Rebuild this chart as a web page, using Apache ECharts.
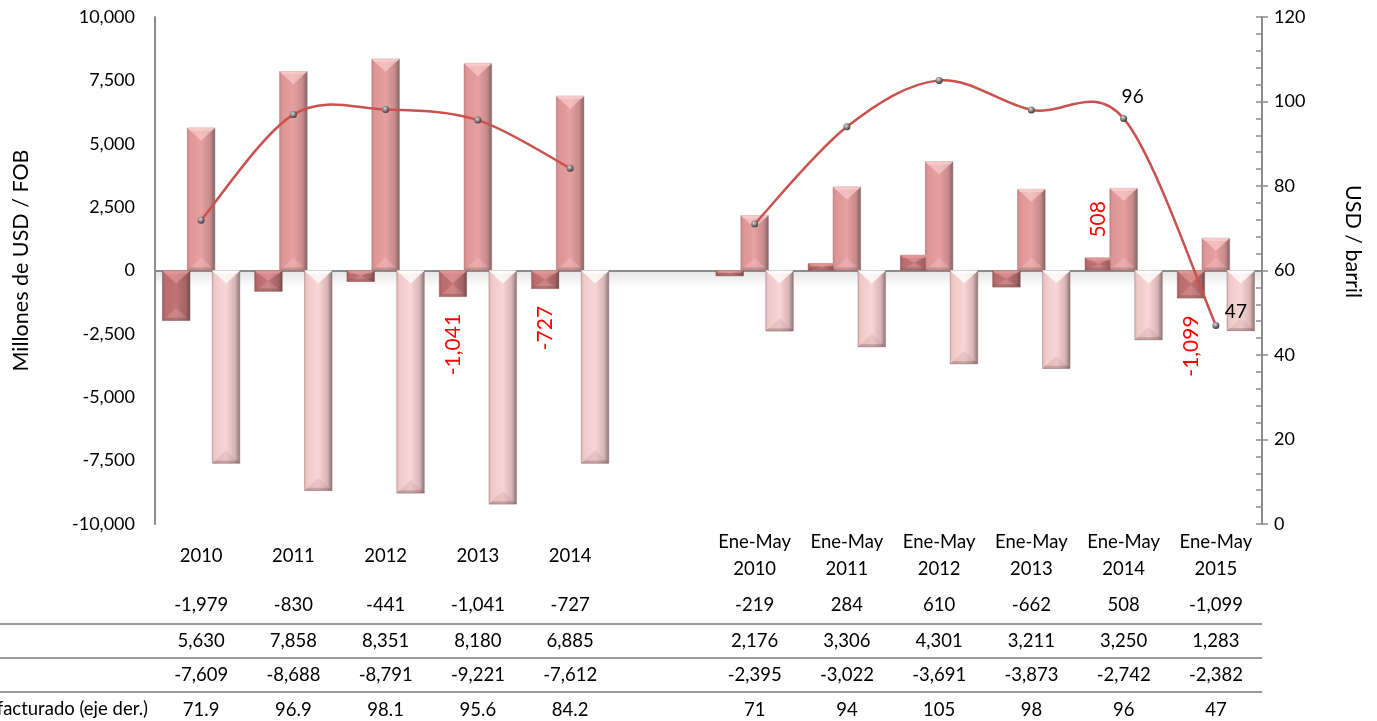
<!DOCTYPE html>
<html>
<head>
<meta charset="utf-8">
<script src="https://cdn.jsdelivr.net/npm/echarts@6/dist/echarts.min.js"></script>
<style>
  html, body { margin: 0; padding: 0; background: #fff; }
  #chart { width: 1377px; height: 721px; }
</style>
</head>
<body>
<div id="chart"></div>
<script>
// Periods: annual totals, a spacer column, then January-May partials
const categories = ['2010', '2011', '2012', '2013', '2014', '',
  'Ene-May\n2010', 'Ene-May\n2011', 'Ene-May\n2012', 'Ene-May\n2013', 'Ene-May\n2014', 'Ene-May\n2015'];

// Millones de USD FOB
const balance = [-1979, -830, -441, -1041, -727, null, -219, 284, 610, -662, 508, -1099];
const exportsFob = [5630, 7858, 8351, 8180, 6885, null, 2176, 3306, 4301, 3211, 3250, 1283];
const importsFob = [-7609, -8688, -8791, -9221, -7612, null, -2395, -3022, -3691, -3873, -2742, -2382];

// USD / barril (right axis)
const price = [71.9, 96.9, 98.1, 95.6, 84.2, null, 71, 94, 105, 98, 96, 47];

// Which points carry a value label on the chart
const balanceLabelIdx = [3, 4, 10, 11];
const priceLabelIdx = [10, 11];

const priceRowTitle = 'Precio facturado (eje der.)';

const FONT = 'Lato';
const BAR_W = 28;
const BAR_STEP = 25;
const LINE_COLOR = '#c9524f';
const fmt = v => (v === null ? '' : v.toLocaleString('en-US'));

function hGrad(stops) {
  return { type: 'linear', x: 0, y: 0, x2: 1, y2: 0,
    colorStops: stops.map(s => ({ offset: s[0], color: s[1] })) };
}

const balanceColor = hGrad([[0, '#a85c5c'], [0.12, '#bb6d6d'], [0.5, '#c27474'], [0.85, '#a26262'], [1, '#6f4b4b']]);
const exportsColor = hGrad([[0, '#d28888'], [0.12, '#de9696'], [0.5, '#e6a0a0'], [0.82, '#c98b8b'], [1, '#7d6565']]);
const importsColor = hGrad([[0, '#e2b6b6'], [0.12, '#f0caca'], [0.5, '#f8d6d6'], [0.82, '#d9b5b5'], [1, '#8b7373']]);

const balanceData = balance.map((v, i) => {
  if (!balanceLabelIdx.includes(i)) return v;
  const pos = v >= 0;
  return {
    value: v,
    label: {
      show: true,
      position: pos ? 'top' : 'bottom',
      distance: pos ? 20 : 17,
      rotate: 90,
      align: pos ? 'left' : 'right',
      verticalAlign: 'middle',
      color: '#ff0000',
      fontFamily: FONT,
      fontSize: 21,
      formatter: p => fmt(p.value)
    }
  };
});

const priceOffsets = { 10: [9, -4], 11: [20, 4] };
const priceData = price.map((v, i) => {
  if (!priceLabelIdx.includes(i)) return v;
  return {
    value: v,
    label: {
      show: true,
      position: 'top',
      offset: priceOffsets[i],
      color: '#000',
      fontFamily: FONT,
      fontSize: 19,
      formatter: p => String(p.value)
    }
  };
});

// Hidden-line category axes that print the data table rows under the plot
function tableAxis(data, offset, extra) {
  return Object.assign({
    type: 'category',
    data: data,
    position: 'bottom',
    offset: offset,
    axisLine: { show: false, onZero: false },
    axisTick: { show: false },
    splitLine: { show: false },
    axisLabel: {
      interval: 0, margin: 0, verticalAlign: 'middle',
      color: '#000', fontFamily: FONT, fontSize: 18.5
    }
  }, extra || {});
}

// Bevel facets drawn on top of each bar (light notch at the top, soft one at the bottom)
function bevelSeries(values, slot, topFill, bottomFill) {
  return {
    type: 'custom',
    xAxisIndex: 0, yAxisIndex: 0,
    z: 3,
    silent: true,
    data: values.map((v, i) => [i, v]).filter(d => d[1] !== null),
    encode: { x: 0, y: 1 },
    renderItem: (params, api) => {
      const end = api.coord([api.value(0), api.value(1)]);
      const base = api.coord([api.value(0), 0]);
      const xc = end[0] + slot * BAR_STEP;
      const x0 = xc - BAR_W / 2, x1 = xc + BAR_W / 2;
      const yTop = Math.min(end[1], base[1]);
      const yBot = Math.max(end[1], base[1]);
      const h = Math.min(13, (yBot - yTop) / 2);
      if (h < 0.5) return null;
      return {
        type: 'group',
        children: [
          { type: 'polygon', shape: { points: [[x0, yTop], [x1, yTop], [xc, yTop + h]] }, style: { fill: topFill } },
          { type: 'polygon', shape: { points: [[x0, yTop], [x1, yTop], [x1 - 3, yTop + 3], [x0 + 3, yTop + 3]] }, style: { fill: topFill } },
          { type: 'polygon', shape: { points: [[x0, yBot], [x1, yBot], [xc, yBot - h]] }, style: { fill: bottomFill } },
          { type: 'polygon', shape: { points: [[x0, yBot], [x1, yBot], [x1 - 3, yBot - 3], [x0 + 3, yBot - 3]] }, style: { fill: 'rgba(60,30,30,0.18)' } }
        ]
      };
    }
  };
}

// Smoothed price curve: one cubic segment per pair of neighbouring points
// (Catmull-Rom style tangents, which let the curve swing past its points)
const priceSegments = price
  .map((v, i) => [i, v])
  .filter(d => d[1] !== null && price[d[0] + 1] !== null && d[0] + 1 < price.length);

function priceAt(api, j, fallback) {
  if (j < 0 || j >= price.length || price[j] === null) return fallback;
  return api.coord([j, price[j]]);
}

const priceCurve = {
  type: 'custom',
  xAxisIndex: 0, yAxisIndex: 1,
  z: 8,
  silent: true,
  data: priceSegments,
  encode: { x: 0, y: 1 },
  renderItem: (params, api) => {
    const i = api.value(0);
    const p1 = api.coord([i, price[i]]);
    const p2 = api.coord([i + 1, price[i + 1]]);
    const p0 = priceAt(api, i - 1, p1);
    const p3 = priceAt(api, i + 2, p2);
    const k = 1 / 6;
    return {
      type: 'bezierCurve',
      shape: {
        x1: p1[0], y1: p1[1], x2: p2[0], y2: p2[1],
        cpx1: p1[0] + (p2[0] - p0[0]) * k, cpy1: p1[1] + (p2[1] - p0[1]) * k,
        cpx2: p2[0] - (p3[0] - p1[0]) * k, cpy2: p2[1] - (p3[1] - p1[1]) * k
      },
      style: { stroke: LINE_COLOR, lineWidth: 2.5, fill: null, lineCap: 'round' }
    };
  }
};

const chart = echarts.init(document.getElementById('chart'), null, { renderer: 'canvas' });

const option = {
  animation: false,
  backgroundColor: '#fff',
  grid: { left: 155, right: 115, top: 17, bottom: 197, containLabel: false, outerBoundsMode: 'none' },
  xAxis: [
    {
      type: 'category',
      data: categories,
      position: 'bottom',
      axisLine: { show: true, onZero: true, lineStyle: { color: '#8c8c8c', width: 2 } },
      axisTick: { show: false },
      axisLabel: { show: false },
      splitLine: { show: false }
    },
    tableAxis(categories, 32, {
      axisLabel: {
        interval: 0, margin: 0, verticalAlign: 'middle', lineHeight: 27,
        color: '#000', fontFamily: FONT, fontSize: 18.5
      }
    }),
    tableAxis(balance.map(fmt), 81),
    tableAxis(exportsFob.map(fmt), 117),
    tableAxis(importsFob.map(fmt), 151),
    tableAxis(price.map(v => (v === null ? '' : String(v))), 186)
  ],
  yAxis: [
    {
      type: 'value',
      position: 'left',
      min: -10000, max: 10000, interval: 2500,
      axisLine: { show: true, lineStyle: { color: '#8c8c8c', width: 2 } },
      axisTick: { show: false },
      splitLine: { show: false },
      axisLabel: {
        margin: 20, color: '#000', fontFamily: FONT, fontSize: 18,
        formatter: v => v.toLocaleString('en-US')
      },
      name: 'Millones de USD / FOB',
      nameLocation: 'middle',
      nameGap: 123,
      nameRotate: 90,
      nameTextStyle: { color: '#000', fontFamily: FONT, fontSize: 21.5, padding: [0, 0, 0, 20] }
    },
    {
      type: 'value',
      position: 'right',
      min: 0, max: 120, interval: 20,
      axisLine: { show: true, lineStyle: { color: '#8c8c8c', width: 2 } },
      axisTick: { show: true, inside: false, length: 6, lineStyle: { color: '#8c8c8c', width: 1.5 } },
      splitLine: { show: false },
      axisLabel: { margin: 12, color: '#000', fontFamily: FONT, fontSize: 18 },
      name: 'USD / barril',
      nameLocation: 'middle',
      nameGap: 80,
      nameRotate: -90,
      nameTextStyle: { color: '#000', fontFamily: FONT, fontSize: 21.5, padding: [0, 58, 0, 0] }
    },
    {
      // inner major + minor ticks of the right scale
      type: 'value',
      position: 'right',
      min: 0, max: 120, interval: 20,
      axisLine: { show: false },
      axisLabel: { show: false },
      splitLine: { show: false },
      axisTick: { show: true, inside: true, length: 6, lineStyle: { color: '#8c8c8c', width: 1.5 } },
      minorTick: { show: true, splitNumber: 5, length: 6, lineStyle: { color: '#8c8c8c', width: 1.5 } }
    }
  ],
  series: [
    {
      name: 'Balanza comercial',
      type: 'bar',
      xAxisIndex: 0, yAxisIndex: 0,
      data: balanceData,
      barWidth: BAR_W,
      barGap: '-11%',
      itemStyle: { color: balanceColor, borderColor: 'rgba(120,70,70,0.5)', borderWidth: 0.5 }
    },
    {
      name: 'Exportaciones',
      type: 'bar',
      xAxisIndex: 0, yAxisIndex: 0,
      data: exportsFob,
      barWidth: BAR_W,
      barGap: '-11%',
      itemStyle: { color: exportsColor, borderColor: 'rgba(150,100,100,0.5)', borderWidth: 0.5 }
    },
    {
      name: 'Importaciones',
      type: 'bar',
      xAxisIndex: 0, yAxisIndex: 0,
      data: importsFob,
      barWidth: BAR_W,
      barGap: '-11%',
      itemStyle: { color: importsColor, borderColor: 'rgba(150,110,110,0.5)', borderWidth: 0.5 }
    },
    bevelSeries(balance, -1, 'rgba(235,160,160,0.55)', 'rgba(255,210,210,0.18)'),
    bevelSeries(exportsFob, 0, 'rgba(255,215,215,0.55)', 'rgba(255,225,225,0.22)'),
    bevelSeries(importsFob, 1, 'rgba(255,255,255,0.75)', 'rgba(170,120,120,0.18)'),
    priceCurve,
    {
      // markers and value labels of the price series
      name: priceRowTitle,
      type: 'line',
      xAxisIndex: 0, yAxisIndex: 1,
      data: priceData,
      connectNulls: false,
      symbol: 'circle',
      symbolSize: 7,
      z: 10,
      lineStyle: { opacity: 0 },
      itemStyle: {
        color: {
          type: 'radial', x: 0.4, y: 0.35, r: 0.6,
          colorStops: [{ offset: 0, color: '#d8d8d8' }, { offset: 1, color: '#4a4040' }]
        },
        borderWidth: 0
      }
    }
  ]
};

chart.setOption(option);

// Table rules, row title and the soft floor shadow under the zero line
const zeroY = chart.convertToPixel({ yAxisIndex: 0 }, 0);
const plotLeft = 155, plotRight = 1377 - 115;
chart.setOption({
  graphic: [
    {
      type: 'rect', z: 0, silent: true,
      shape: { x: plotLeft, y: zeroY + 1, width: plotRight - plotLeft, height: 16 },
      style: {
        fill: { type: 'linear', x: 0, y: 0, x2: 0, y2: 1,
          colorStops: [{ offset: 0, color: 'rgba(0,0,0,0.10)' }, { offset: 1, color: 'rgba(0,0,0,0)' }] }
      }
    },
    { type: 'line', silent: true, shape: { x1: 0, y1: 624, x2: plotRight, y2: 624 }, style: { stroke: '#9a9a9a', lineWidth: 2 } },
    { type: 'line', silent: true, shape: { x1: 0, y1: 658, x2: plotRight, y2: 658 }, style: { stroke: '#9a9a9a', lineWidth: 2 } },
    { type: 'line', silent: true, shape: { x1: 0, y1: 692, x2: plotRight, y2: 692 }, style: { stroke: '#9a9a9a', lineWidth: 2 } },
    {
      type: 'text', silent: true, x: 148, y: 709,
      style: { text: priceRowTitle, fill: '#000', font: '18.5px ' + FONT, textAlign: 'right', textVerticalAlign: 'middle' }
    }
  ]
});
</script>
</body>
</html>
